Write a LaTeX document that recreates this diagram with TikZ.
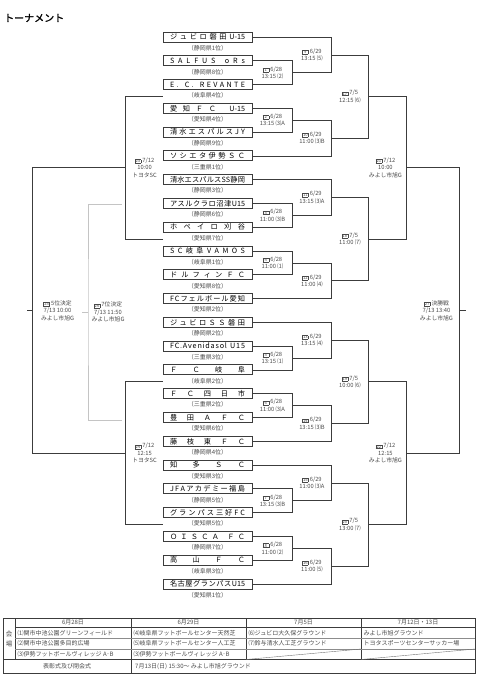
\documentclass[tikz,border=0pt]{standalone}
\usepackage{fontspec}
\setmainfont{Noto Sans CJK JP}
\newfontfamily\titlefont{Noto Sans CJK JP}[FakeBold=1.5]
\usetikzlibrary{calc}

\definecolor{frame}{HTML}{3C3C3C}
\definecolor{pale}{HTML}{C4C4C4}
\definecolor{tag}{HTML}{4A4A4A}

\setlength\fboxsep{0.25pt}
\setlength\fboxrule{0.3pt}
\newcommand\mno[1]{\raisebox{-0.4pt}{\fbox{\makebox[5.2pt]{\fontsize{4.2}{4.6}\selectfont #1}}}}
\makeatletter
\newcommand\team[1]{\makebox[75pt][s]{\@tempswafalse\@tfor\tk:=#1\do{\if@tempswa\hfil\fi\tk\@tempswatrue}}}
\makeatother

\begin{document}
\begin{tikzpicture}[x=1pt, y=-1pt,
  teambox/.style={draw=frame, line width=0.9pt, minimum width=89pt, minimum height=10pt, inner sep=0pt, font=\fontsize{7.2}{8}\selectfont},
  pref/.style={inner sep=0pt, text=tag, font=\fontsize{6}{6}\selectfont},
  info/.style={inner sep=0pt, align=center, text=tag, font=\fontsize{5.8}{7.4}\selectfont},
  link/.style={draw=frame, line width=0.7pt}]
  \useasboundingbox (0,0) rectangle (480,680);
  \node[anchor=west, inner sep=0pt, font=\titlefont\fontsize{10}{10}\selectfont] (title) at (4,18) {トーナメント};

  % Teams, top to bottom, with the prefecture ranking under each box.
  \node[teambox] (t1) at (207.5,37) {\team{ジュビロ磐田{U-15}}};
  \node[pref] (r1) at ($(t1)+(0,11)$) {（静岡県1位）};
  \node[teambox] (t2) at (207.5,60.8) {\team{SALFUS{ }oRs}};
  \node[pref] (r2) at ($(t2)+(0,11)$) {（静岡県8位）};
  \node[teambox] (t3) at (207.5,84.6) {\team{E.{ }C.{ }REVANTE}};
  \node[pref] (r3) at ($(t3)+(0,11)$) {（岐阜県4位）};
  \node[teambox] (t4) at (207.5,108.3) {\team{愛知ＦＣ{ }{U-15}}};
  \node[pref] (r4) at ($(t4)+(0,11)$) {（愛知県4位）};
  \node[teambox] (t5) at (207.5,132.1) {\team{清水エスパルスJY}};
  \node[pref] (r5) at ($(t5)+(0,11)$) {（静岡県9位）};
  \node[teambox] (t6) at (207.5,155.9) {\team{ソシエタ伊勢ＳＣ}};
  \node[pref] (r6) at ($(t6)+(0,11)$) {（三重県1位）};
  \node[teambox] (t7) at (207.5,179.7) {\team{清水エスパルスSS静岡}};
  \node[pref] (r7) at ($(t7)+(0,11)$) {（静岡県3位）};
  \node[teambox] (t8) at (207.5,203.5) {\team{アスルクラロ沼津{U15}}};
  \node[pref] (r8) at ($(t8)+(0,11)$) {（静岡県6位）};
  \node[teambox] (t9) at (207.5,227.2) {\team{ホペイロ刈谷}};
  \node[pref] (r9) at ($(t9)+(0,11)$) {（愛知県7位）};
  \node[teambox] (t10) at (207.5,251) {\team{SC岐阜VAMOS}};
  \node[pref] (r10) at ($(t10)+(0,11)$) {（岐阜県1位）};
  \node[teambox] (t11) at (207.5,274.8) {\team{ドルフィンＦＣ}};
  \node[pref] (r11) at ($(t11)+(0,11)$) {（愛知県8位）};
  \node[teambox] (t12) at (207.5,298.6) {\team{FCフェルボール愛知}};
  \node[pref] (r12) at ($(t12)+(0,11)$) {（愛知県2位）};
  \node[teambox] (t13) at (207.5,322.4) {\team{ジュビロＳＳ磐田}};
  \node[pref] (r13) at ($(t13)+(0,11)$) {（静岡県2位）};
  \node[teambox] (t14) at (207.5,346.1) {\team{FC.Avenidasol{ }U15}};
  \node[pref] (r14) at ($(t14)+(0,11)$) {（三重県3位）};
  \node[teambox] (t15) at (207.5,369.9) {\team{ＦＣ岐阜}};
  \node[pref] (r15) at ($(t15)+(0,11)$) {（岐阜県2位）};
  \node[teambox] (t16) at (207.5,393.7) {\team{ＦＣ四日市}};
  \node[pref] (r16) at ($(t16)+(0,11)$) {（三重県2位）};
  \node[teambox] (t17) at (207.5,417.5) {\team{豊田ＡＦＣ}};
  \node[pref] (r17) at ($(t17)+(0,11)$) {（愛知県6位）};
  \node[teambox] (t18) at (207.5,441.3) {\team{藤枝東ＦＣ}};
  \node[pref] (r18) at ($(t18)+(0,11)$) {（静岡県4位）};
  \node[teambox] (t19) at (207.5,465.1) {\team{知多ＳＣ}};
  \node[pref] (r19) at ($(t19)+(0,11)$) {（愛知県3位）};
  \node[teambox] (t20) at (207.5,488.8) {\team{JFAアカデミー福島}};
  \node[pref] (r20) at ($(t20)+(0,11)$) {（静岡県5位）};
  \node[teambox] (t21) at (207.5,512.6) {\team{グランパス三好FC}};
  \node[pref] (r21) at ($(t21)+(0,11)$) {（愛知県5位）};
  \node[teambox] (t22) at (207.5,536.4) {\team{ＯＩＳＣＡ{ }ＦＣ}};
  \node[pref] (r22) at ($(t22)+(0,11)$) {（静岡県7位）};
  \node[teambox] (t23) at (207.5,560.2) {\team{高山ＦＣ}};
  \node[pref] (r23) at ($(t23)+(0,11)$) {（岐阜県3位）};
  \node[teambox] (t24) at (207.5,584) {\team{名古屋グランパス{U15}}};
  \node[pref] (r24) at ($(t24)+(0,11)$) {（愛知県1位）};

  % Match points: each sits on the vertical bar of its bracket.
  \coordinate (m1) at ($(t2.east)!.5!(t3.east)+(40,0)$);
  \coordinate (m2) at ($(t4.east)!.5!(t5.east)+(40,0)$);
  \coordinate (m3) at ($(t8.east)!.5!(t9.east)+(40,0)$);
  \coordinate (m4) at ($(t10.east)!.5!(t11.east)+(40,0)$);
  \coordinate (m5) at ($(t14.east)!.5!(t15.east)+(40,0)$);
  \coordinate (m6) at ($(t16.east)!.5!(t17.east)+(40,0)$);
  \coordinate (m7) at ($(t20.east)!.5!(t21.east)+(40,0)$);
  \coordinate (m8) at ($(t22.east)!.5!(t23.east)+(40,0)$);
  \coordinate (m9) at ($(t1.east)!.5!(t1.east|-m1)+(79,0)$);
  \coordinate (m10) at ($(m2)!.5!(m2|-t6)+(39,0)$);
  \coordinate (m11) at ($(t7.east)!.5!(t7.east|-m3)+(79,0)$);
  \coordinate (m12) at ($(m4)!.5!(m4|-t12)+(39,0)$);
  \coordinate (m13) at ($(t13.east)!.5!(t13.east|-m5)+(79,0)$);
  \coordinate (m14) at ($(m6)!.5!(m6|-t18)+(39,0)$);
  \coordinate (m15) at ($(t19.east)!.5!(t19.east|-m7)+(79,0)$);
  \coordinate (m16) at ($(m8)!.5!(m8|-t24)+(39,0)$);
  \coordinate (m17) at ($(m9)!.5!(m9|-m10)+(37,0)$);
  \coordinate (m18) at ($(m11)!.5!(m11|-m12)+(37,0)$);
  \coordinate (m19) at ($(m13)!.5!(m13|-m14)+(37,0)$);
  \coordinate (m20) at ($(m15)!.5!(m15|-m16)+(37,0)$);
  \coordinate (m21) at ($(m17)!.5!(m17|-m18)+(38,0)$);
  \coordinate (m22) at ($(m19)!.5!(m19|-m20)+(38,0)$);
  \coordinate (m27) at ($(m21)!.5!(m21|-m22)+(53,0)$);
  \coordinate (fin) at ($(m27)+(7,0)$);

  \draw[link] (t2.east) -| (m1) |- (t3.east);
  \draw[link] (t4.east) -| (m2) |- (t5.east);
  \draw[link] (t8.east) -| (m3) |- (t9.east);
  \draw[link] (t10.east) -| (m4) |- (t11.east);
  \draw[link] (t14.east) -| (m5) |- (t15.east);
  \draw[link] (t16.east) -| (m6) |- (t17.east);
  \draw[link] (t20.east) -| (m7) |- (t21.east);
  \draw[link] (t22.east) -| (m8) |- (t23.east);
  \draw[link] (t1.east) -| (m9) |- (m1);
  \draw[link] (m2) -| (m10) |- (t6.east);
  \draw[link] (t7.east) -| (m11) |- (m3);
  \draw[link] (m4) -| (m12) |- (t12.east);
  \draw[link] (t13.east) -| (m13) |- (m5);
  \draw[link] (m6) -| (m14) |- (t18.east);
  \draw[link] (t19.east) -| (m15) |- (m7);
  \draw[link] (m8) -| (m16) |- (t24.east);
  \draw[link] (m9) -| (m17) |- (m10);
  \draw[link] (m11) -| (m18) |- (m12);
  \draw[link] (m13) -| (m19) |- (m14);
  \draw[link] (m15) -| (m20) |- (m16);
  \draw[link] (m17) -| (m21) |- (m18);
  \draw[link] (m19) -| (m22) |- (m20);
  \draw[link] (m21) -| (m27) |- (m22);
  \draw[link] (m27) -- (fin);

  % Placing matches on the left: quarter-final losers.
  \coordinate (s17) at (t1.west |- m17);
  \coordinate (s18) at (t1.west |- m18);
  \coordinate (s19) at (t1.west |- m19);
  \coordinate (s20) at (t1.west |- m20);
  \coordinate (m23) at ($(s17)!.5!(s17|-s18)+(-37,0)$);
  \coordinate (m24) at ($(s19)!.5!(s19|-s20)+(-37,0)$);
  \coordinate (m25) at ($(m23)!.5!(m23|-m24)+(-93,0)$);
  \coordinate (tick25) at ($(m25)+(-6,0)$);
  \coordinate (g23) at (122,204);
  \coordinate (g24) at (122,420);
  \coordinate (m26) at ($(g23)!.5!(g24)+(-34,0)$);
  \coordinate (tick26) at ($(m26)+(-6,0)$);

  \draw[link] (s17) -| (m23) |- (s18);
  \draw[link] (s19) -| (m24) |- (s20);
  \draw[link] (m23) -| (m25) |- (m24);
  \draw[link] (m25) -- (tick25);
  \draw[link, draw=pale] (g23) -| (m26) |- (g24);
  \draw[link, draw=pale] (m26) -- (tick26);

  % Match numbers, dates and grounds.
  \node[info] (i1) at ($(m1)+(-20,0)$) {\mno{1} 6/28\\13:15 ⑵};
  \node[info] (i2) at ($(m2)+(-20,0)$) {\mno{2} 6/28\\13:15 ⑶A};
  \node[info] (i3) at ($(m3)+(-20,0)$) {\mno{3} 6/28\\11:00 ⑶B};
  \node[info] (i4) at ($(m4)+(-20,0)$) {\mno{4} 6/28\\11:00 ⑴};
  \node[info] (i5) at ($(m5)+(-20,0)$) {\mno{5} 6/28\\13:15 ⑴};
  \node[info] (i6) at ($(m6)+(-20,0)$) {\mno{6} 6/28\\11:00 ⑶A};
  \node[info] (i7) at ($(m7)+(-20,0)$) {\mno{7} 6/28\\13:15 ⑶B};
  \node[info] (i8) at ($(m8)+(-20,0)$) {\mno{8} 6/28\\11:00 ⑵};
  \node[info] (i9) at ($(m9)+(-19.5,0)$) {\mno{9} 6/29\\13:15 ⑸};
  \node[info] (i10) at ($(m10)+(-19.5,0)$) {\mno{10} 6/29\\11:00 ⑶B};
  \node[info] (i11) at ($(m11)+(-19.5,0)$) {\mno{11} 6/29\\13:15 ⑶A};
  \node[info] (i12) at ($(m12)+(-19.5,0)$) {\mno{12} 6/29\\11:00 ⑷};
  \node[info] (i13) at ($(m13)+(-19.5,0)$) {\mno{13} 6/29\\13:15 ⑷};
  \node[info] (i14) at ($(m14)+(-19.5,0)$) {\mno{14} 6/29\\13:15 ⑶B};
  \node[info] (i15) at ($(m15)+(-19.5,0)$) {\mno{15} 6/29\\11:00 ⑶A};
  \node[info] (i16) at ($(m16)+(-19.5,0)$) {\mno{16} 6/29\\11:00 ⑸};
  \node[info] (i17) at ($(m17)+(-18.5,0)$) {\mno{17} 7/5\\12:15 ⑹};
  \node[info] (i18) at ($(m18)+(-18.5,0)$) {\mno{18} 7/5\\11:00 ⑺};
  \node[info] (i19) at ($(m19)+(-18.5,0)$) {\mno{19} 7/5\\10:00 ⑹};
  \node[info] (i20) at ($(m20)+(-18.5,0)$) {\mno{20} 7/5\\13:00 ⑺};
  \node[info] (i21) at ($(m21)+(-21,0)$) {\mno{21} 7/12\\10:00\\みよし市旭G};
  \node[info] (i22) at ($(m22)+(-21,0)$) {\mno{22} 7/12\\12:15\\みよし市旭G};
  \node[info] (i23) at ($(m23)+(19,0)$) {\mno{23} 7/12\\10:00\\トヨタSC};
  \node[info] (i24) at ($(m24)+(19,0)$) {\mno{24} 7/12\\12:15\\トヨタSC};
  \node[info] (i25) at ($(m25)+(25,0)$) {\mno{25} 5位決定\\7/13 10:00\\みよし市旭G};
  \node[info] (i26) at ($(m26)+(20,0)$) {\mno{26} 7位決定\\7/13 11:50\\みよし市旭G};
  \node[info] (i27) at ($(m27)+(-23,0)$) {\mno{27} 決勝戦\\7/13 13:40\\みよし市旭G};

  % Venue table at the foot of the sheet.
  \tikzset{cell/.style={inner sep=0pt, anchor=west, text=tag, font=\fontsize{6}{6}\selectfont}}
  \draw[draw=frame, line width=0.9pt] (3,618) rectangle (475,673);
  \draw[draw=frame, line width=0.5pt] (15,618) -- (15,659.5) (131,618) -- (131,673) (246,618) -- (246,659.5) (361,618) -- (361,659.5);
  \draw[draw=frame, line width=0.5pt] (15,627.5) -- (475,627.5) (3,659.5) -- (475,659.5);
  \draw[black!45, line width=0.4pt] (15,638) -- (475,638) (15,649) -- (475,649);
  \draw[black!55, line width=0.4pt] (246,659.5) -- (361,649) (361,659.5) -- (475,649);

  \node[cell, anchor=center, align=center, font=\fontsize{6.5}{10}\selectfont] (venue) at (9,638.75) {会\\場};
  \node[cell, anchor=center] (d1) at (73,622.75) {6月28日};
  \node[cell, anchor=center] (d2) at (188.5,622.75) {6月29日};
  \node[cell, anchor=center] (d3) at (303.5,622.75) {7月5日};
  \node[cell, anchor=center] (d4) at (418,622.75) {7月12日・13日};
  \node[cell] (v1) at (17.5,632.75) {⑴関市中池公園グリーンフィールド};
  \node[cell] (v2) at (17.5,643.5) {⑵関市中池公園多目的広場};
  \node[cell] (v3) at (17.5,654.25) {⑶伊勢フットボールヴィレッジ A･B};
  \node[cell] (v4) at (133.5,632.75) {⑷岐阜県フットボールセンター天然芝};
  \node[cell] (v5) at (133.5,643.5) {⑸岐阜県フットボールセンター人工芝};
  \node[cell] (v6) at (133.5,654.25) {⑶伊勢フットボールヴィレッジ A･B};
  \node[cell] (v7) at (248.5,632.75) {⑹ジュビロ大久保グラウンド};
  \node[cell] (v8) at (248.5,643.5) {⑺鈴与清水人工芝グラウンド};
  \node[cell] (v9) at (363.5,632.75) {みよし市旭グラウンド};
  \node[cell] (v10) at (363.5,643.5) {トヨタスポーツセンターサッカー場};
  \node[cell, anchor=center] (award) at (67,666.25) {表彰式及び閉会式};
  \node[cell] (awardtime) at (135,666.25) {7月13日(日) 15:30～ みよし市旭グラウンド};
\end{tikzpicture}
\end{document}
